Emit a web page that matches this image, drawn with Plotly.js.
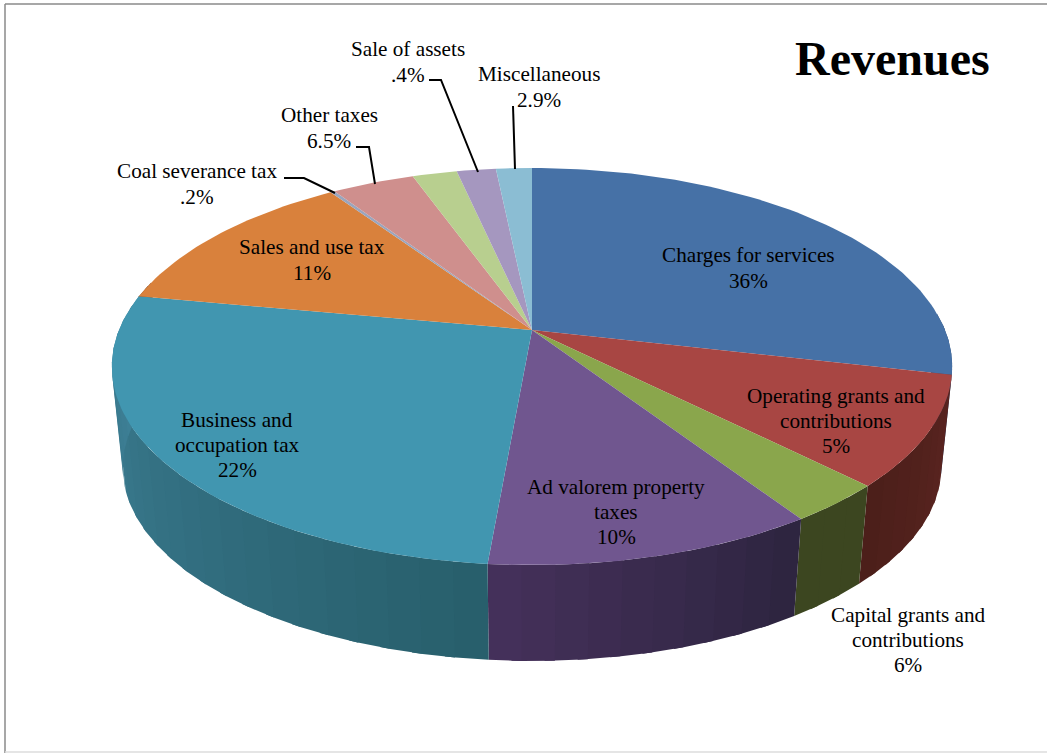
<!DOCTYPE html>
<html><head><meta charset="utf-8">
<script src="https://cdn.plot.ly/plotly-3.0.1.min.js"></script>
<style>html,body{margin:0;padding:0;background:#fff}#c{width:1047px;height:753px}</style></head>
<body><div id="c"></div>
<script>
// Slice shares (clockwise from 12 o'clock, percent of the circle)
const categories = ["Charges for services","Operating grants and contributions","Capital grants and contributions","Ad valorem property taxes","Business and occupation tax","Sales and use tax","Coal severance tax","Other taxes","Unlabelled","Sale of assets","Miscellaneous"];
const sliceShares = [28.6,8.9,3.2,10.7,26.5,12.6,0.2,3.8,2.05,1.8,1.65];
const topColors = ["#4671a6","#a84643","#8aa64c","#70568f","#4196b0","#d9813c","#9aa5bd","#cf8f8d","#b8cf8f","#a597bf","#8bbdd3"];
const sideStart = ["#32527a","#5a2420","#3c4620","#2e2540","#285f6c","#8a4f24","#666666","#8a5f5d","#7a8a5f","#6e6480","#5c7e8c"];
const sideEnd = ["#32527a","#4c1f1a","#3c4620","#44305a","#3f8299","#8a4f24","#666666","#8a5f5d","#7a8a5f","#6e6480","#5c7e8c"];
const labelTexts = ["Charges for services<br>36%","Operating grants and<br>contributions<br>5%","Capital grants and<br>contributions<br>6%","Ad valorem property<br>taxes<br>10%","Business and<br>occupation tax<br>22%","Sales and use tax<br>11%","Coal severance tax<br>.2%","Other taxes<br>6.5%","Sale of assets<br>.4%","Miscellaneous<br>2.9%"];
const labelX = [748,836,908,616,237,312,197,329,408,539];
const labelY = [268,421,640,512,445,260,184,128,62,87];
const leaderX = [[284,304,335],[356,369,375],[429,441,478],[513,513,515]];
const leaderY = [[178,178,193],[147,147,184],[80,80,172],[106,106,169]];
const chartTitle = "Revenues";
const lineGap = 25.3;

// Perspective view of the pie disc
const apex = [532,330], base = [532,432];
const persp = 0.184, halfW = 413, halfD = 191.8, baseScale = 0.974;
function rim(deg){
  const t = deg*Math.PI/180, X = Math.sin(t), Y = -Math.cos(t), k = 1/(1-persp*Y);
  return [halfW*X*k, halfD*Y*k];
}
const topPt = d => { const r = rim(d); return [apex[0]+r[0], apex[1]+r[1]]; };
const botPt = d => { const r = rim(d); return [base[0]+baseScale*r[0], base[1]+baseScale*r[1]]; };
function hex(c){ return [1,3,5].map(i=>parseInt(c.substr(i,2),16)); }
function mix(a,b,f){ const A=hex(a),B=hex(b); return "rgb("+A.map((v,i)=>Math.round(v+(B[i]-v)*f)).join(",")+")"; }

const traces = [];
function poly(xs,ys,color){
  traces.push({type:"scatter",mode:"lines",x:xs,y:ys,fill:"toself",fillcolor:color,
    line:{color:color,width:0},hoverinfo:"skip",showlegend:false});
}
let acc = 0; const bounds = sliceShares.map(v=>{ const a=acc; acc+=v; return [a*3.6,acc*3.6]; });
// side walls, front part only; each band overlaps the next so no seams show
bounds.forEach((b,i)=>{
  const from=Math.max(b[0],85), to=Math.min(b[1],285);
  if(to<=from) return;
  const n=Math.max(1,Math.ceil((to-from)/4));
  for(let s=0;s<n;s++){
    const a1=from+(to-from)*s/n, a2=Math.min(to,from+(to-from)*(s+1)/n+1.2);
    const xs=[],ys=[];
    for(let k=0;k<=4;k++){const p=topPt(a1+(a2-a1)*k/4);xs.push(p[0]);ys.push(p[1]);}
    for(let k=4;k>=0;k--){const p=botPt(a1+(a2-a1)*k/4);xs.push(p[0]);ys.push(p[1]);}
    xs.push(xs[0]);ys.push(ys[0]);
    poly(xs,ys,mix(sideStart[i],sideEnd[i],n>1?s/(n-1):0));
  }
});
// top faces
bounds.forEach((b,i)=>{
  const xs=[apex[0]],ys=[apex[1]];
  const n=Math.max(2,Math.ceil((b[1]-b[0])/1.5));
  for(let s=0;s<=n;s++){ const p=topPt(b[0]+(b[1]-b[0])*s/n); xs.push(p[0]); ys.push(p[1]); }
  xs.push(apex[0]); ys.push(apex[1]);
  poly(xs,ys,topColors[i]);
});
// leader lines
leaderX.forEach((lx,i)=>traces.push({type:"scatter",mode:"lines",x:lx,y:leaderY[i],line:{color:"#000",width:2},hoverinfo:"skip",showlegend:false}));

const annotations = [];
labelTexts.forEach((t,i)=>{
  const rows=t.split("<br>");
  rows.forEach((r,j)=>annotations.push({x:labelX[i],y:labelY[i]+(j-(rows.length-1)/2)*lineGap,xref:"x",yref:"y",text:r,showarrow:false,xanchor:"center",yanchor:"middle",font:{family:"Liberation Serif",size:21.2,color:"#000"}}));
});
annotations.push({x:892,y:58,xref:"x",yref:"y",text:"<b>"+chartTitle+"</b>",showarrow:false,xanchor:"center",yanchor:"middle",font:{family:"Liberation Serif",size:48,color:"#000"}});

const layout = {width:1047,height:753,margin:{l:0,r:0,t:0,b:0},paper_bgcolor:"#fff",plot_bgcolor:"#fff",showlegend:false,
  xaxis:{range:[0,1047],visible:false,fixedrange:true},
  yaxis:{range:[753,0],visible:false,fixedrange:true},
  annotations:annotations,
  shapes:[
    {type:"line",xref:"x",yref:"y",x0:5,x1:5,y0:4,y1:753,line:{color:"#8a8a8a",width:1.5}},
    {type:"line",xref:"x",yref:"y",x0:5,x1:1047,y0:4,y1:4,line:{color:"#8a8a8a",width:1.5}},
    {type:"line",xref:"x",yref:"y",x0:5,x1:1047,y0:752,y1:752,line:{color:"#dcdcdc",width:1.5}}
  ]};
Plotly.newPlot("c",traces,layout,{displayModeBar:false,staticPlot:true});
</script></body></html>
